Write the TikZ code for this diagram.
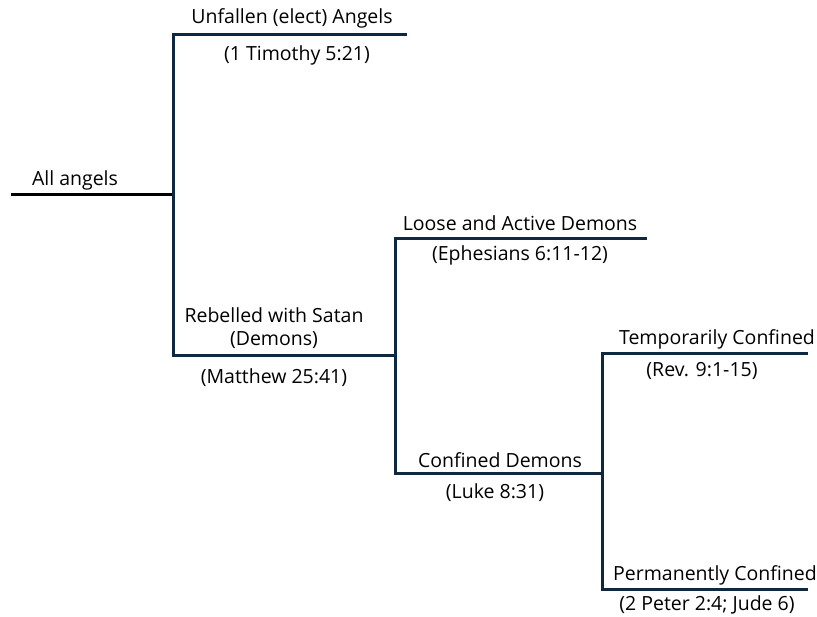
\documentclass[tikz,border=0pt]{standalone}
\usepackage{fontspec}
\setmainfont{Open Sans}
\usepackage{tikz}
\definecolor{navy}{HTML}{0E2841}

\begin{document}
\begin{tikzpicture}[x=1pt,y=-1pt]
    \tikzstyle{every node}+=[inner sep=0pt, font=\fontsize{19.5}{23}\selectfont]
    \tikzstyle{branch}=[draw=navy, line width=3pt, line cap=rect]
    \useasboundingbox (0,0) rectangle (817,617);
    % junction points
    \coordinate (root) at (11,195);
    \coordinate (all) at (173,195);
    \coordinate (elect) at (173,35);
    \coordinate (electend) at (405,35);
    \coordinate (rebel) at (173,356);
    \coordinate (rebelend) at (395,356);
    \coordinate (loose) at (395,239);
    \coordinate (looseend) at (645,239);
    \coordinate (conf) at (395,474);
    \coordinate (confend) at (602,474);
    \coordinate (temp) at (602,354);
    \coordinate (tempend) at (806,354);
    \coordinate (perm) at (602,589);
    \coordinate (permend) at (806,589);
    % labels
    \node (allangels) at (75,180) {All angels};
    \node (unfallen) at (292,18) {Unfallen (elect) Angels};
    \node (timothy) at (297,55) {(1 Timothy 5:21)};
    \node (rebelled) at (274,315) {Rebelled with Satan};
    \node (demons) at (274,340) {(Demons)};
    \node (matthew) at (274,378) {(Matthew 25:41)};
    \node (active) at (520,223) {Loose and Active Demons};
    \node (ephesians) at (520,255) {(Ephesians 6:11-12)};
    \node (confined) at (500,460) {Confined Demons};
    \node (luke) at (495,493) {(Luke 8:31)};
    \node (temporarily) at (717,339) {Temporarily Confined};
    \node (rev) at (702,371) {(Rev. 9:1-15)};
    \node (permanently) at (715,575) {Permanently Confined};
    \node (peter) at (707,605) {(2 Peter 2:4; Jude 6)};
    % branches
    \draw [black, line width=3pt] (root) -- (all);
    \draw [branch] (electend) -- (elect) -- (rebel) -- (rebelend);
    \draw [branch] (looseend) -- (loose) -- (conf) -- (confend);
    \draw [branch] (tempend) -- (temp) -- (perm) -- (permend);
    \draw [branch] (rebelend) -- (loose);
    \draw [branch] (confend) -- (temp);
\end{tikzpicture}
\end{document}
